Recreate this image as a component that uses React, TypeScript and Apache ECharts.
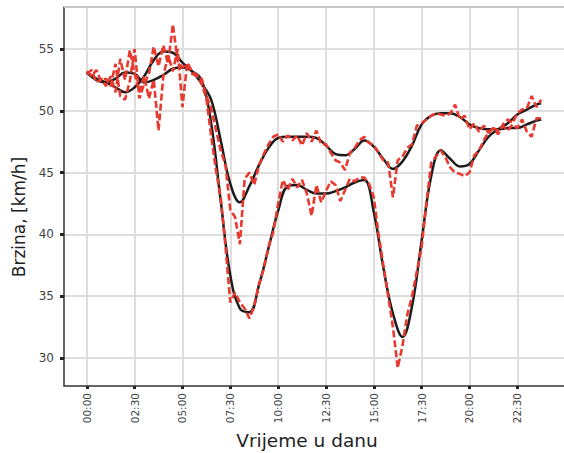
import React, { useEffect, useRef } from "react";
import * as echarts from "echarts";

const tickHours = [0, 2.5, 5, 7.5, 10, 12.5, 15, 17.5, 20, 22.5];
const tickLabels = ["00:00", "02:30", "05:00", "07:30", "10:00", "12:30", "15:00", "17:30", "20:00", "22:30"];
const yTicks = [30, 35, 40, 45, 50, 55];

// 15-minute raw measurements (red dashed), from 00:00 to 23:45
const redStep = 0.25;
const redUpper = [
  53.2, 52.8, 53.3, 52.4, 52.6, 52.0, 53.8, 51.2, 50.9, 52.4, 55.0, 51.0,
  52.2, 53.0, 55.2, 53.6, 55.3, 53.8, 57.0, 54.0, 53.5, 53.8, 53.0, 52.8,
  52.6, 51.2, 50.2, 48.5, 46.8, 45.6, 42.0, 41.4, 39.2, 44.5, 45.0, 44.0,
  45.6, 46.5, 47.3, 47.9, 48.1, 47.5, 48.0, 47.6, 48.0, 47.2, 48.2, 47.5,
  48.4, 47.3, 47.3, 46.6, 46.0, 45.8, 45.2, 46.6, 47.0, 47.6, 47.9, 47.4,
  47.2, 46.6, 46.0, 45.8, 43.0, 46.0, 46.3, 47.0, 47.3, 48.8, 49.0, 49.3,
  49.6, 49.8, 49.7, 49.6, 49.8, 50.5, 49.3, 49.6, 48.5, 49.0, 48.3, 48.8,
  48.2, 48.6, 48.4, 48.8, 48.4, 48.9, 48.6, 49.3, 48.3, 47.9, 49.4, 49.4,
];
const redLower = [
  53.0, 53.3, 52.3, 52.6, 52.0, 52.8, 51.5, 54.2, 52.5, 54.9, 53.0, 51.5,
  52.8, 51.0, 52.5, 48.4, 52.8, 54.5, 53.2, 55.0, 50.3, 53.9, 53.2, 52.9,
  52.2, 51.0, 48.0, 45.2, 43.0, 39.0, 34.5, 35.3, 34.5, 34.0, 33.2, 34.2,
  36.0, 37.2, 39.0, 40.2, 42.5, 44.4, 43.6, 44.5, 43.8, 44.4, 43.3, 41.5,
  44.0, 42.6, 43.5, 44.3, 44.0, 42.7, 43.6, 44.5, 44.3, 44.6, 44.6, 44.1,
  43.0, 40.0, 37.5, 35.0, 32.5, 29.2, 31.0, 33.5, 35.0, 37.0, 39.0, 42.5,
  45.8, 46.3, 46.8, 46.2, 45.4, 45.0, 44.9, 44.7, 45.0, 46.4, 46.8, 47.6,
  48.3, 48.6, 48.1, 48.9, 49.3, 49.0, 49.8, 50.1, 50.2, 51.2, 50.3, 50.9,
];

// smoothed profiles (black)
const smoothHours = [
  0, 0.5, 1, 1.5, 2, 2.5, 3, 3.5, 4, 4.5, 5, 5.5, 6, 6.5, 7, 7.5, 8, 8.5, 9, 9.5,
  10, 10.5, 11, 11.5, 12, 12.5, 13, 13.5, 14, 14.5, 15, 15.5, 16, 16.5, 17, 17.5,
  18, 18.5, 19, 19.5, 20, 20.5, 21, 21.5, 22, 22.5, 23, 23.5, 23.75,
];
const smoothUpper = [
  53.1, 52.6, 52.3, 51.9, 51.5, 51.9, 52.8, 54.1, 54.8, 54.7, 53.9, 53.2, 52.2, 50.9, 47.6, 44.1, 42.6, 43.9, 45.6, 47.0,
  47.8, 47.9, 47.9, 47.9, 47.8, 47.2, 46.5, 46.4, 46.9, 47.6, 47.1, 46.1, 45.3, 45.9, 47.2, 48.9,
  49.6, 49.8, 49.8, 49.5, 48.9, 48.6, 48.5, 48.5, 48.6, 48.6, 48.9, 49.2, 49.3,
];
const smoothLower = [
  53.1, 52.5, 52.3, 52.6, 53.1, 53.0, 52.3, 52.5, 52.9, 53.4, 53.5, 53.2, 52.5, 49.0, 42.7, 36.7, 34.0, 33.7, 35.9, 38.9,
  41.9, 43.9, 44.0, 43.6, 43.3, 43.3, 43.5, 43.8, 44.2, 44.4, 41.8, 37.3, 33.6, 31.7, 34.2, 39.5,
  44.7, 46.8, 46.1, 45.5, 45.7, 46.8, 47.9, 48.5, 49.0, 49.7, 50.1, 50.5, 50.6,
];

const FONT = "DejaVu Sans";

export default function App() {
  const ref = useRef<HTMLDivElement>(null);
  useEffect(() => {
    if (!ref.current) return;
    const chart = echarts.init(ref.current, null, { renderer: "svg" });
    const redSeries = (vals: number[]) => ({
      type: "line",
      data: vals.map((v, i) => [i * redStep, v]),
      showSymbol: false,
      symbol: "none",
      smooth: false,
      z: 3,
      lineStyle: { color: "#e8392f", width: 2.6, type: [7, 3] },
    });
    const blackSeries = (vals: number[]) => ({
      type: "line",
      data: vals.map((v, i) => [smoothHours[i], v]),
      showSymbol: false,
      symbol: "none",
      smooth: 0.4,
      z: 2,
      lineStyle: { color: "#1c1c1c", width: 2.5 },
    });
    chart.setOption({
      animation: false,
      backgroundColor: "#ffffff",
      grid: { left: 64, top: 7, right: -11, bottom: 67, show: false },
      xAxis: {
        type: "value",
        min: -1.19,
        max: 24.94,
        axisLine: { show: true, onZero: false, lineStyle: { color: "#333", width: 1.5 } },
        axisTick: { show: true, customValues: tickHours, length: 3, lineStyle: { color: "#222", width: 3 } },
        axisLabel: {
          customValues: tickHours,
          rotate: 90,
          margin: 7,
          fontSize: 10.5,
          fontFamily: FONT,
          color: "#444",
          formatter: (v: number) => tickLabels[tickHours.indexOf(v)] ?? "",
        },
        splitLine: { show: true, lineStyle: { color: "#dedede", width: 2 } },
      },
      yAxis: {
        type: "value",
        min: 27.73,
        max: 58.4,
        axisLine: { show: true, onZero: false, lineStyle: { color: "#333", width: 1.5 } },
        axisTick: { show: true, customValues: yTicks, length: 4, lineStyle: { color: "#222", width: 3 } },
        axisLabel: {
          customValues: yTicks,
          margin: 10,
          fontSize: 12,
          fontFamily: FONT,
          color: "#444",
        },
        splitLine: { show: true, lineStyle: { color: "#dedede", width: 2 } },
      },
      graphic: [
        { type: "line", shape: { x1: 64, y1: 7, x2: 564, y2: 7 }, style: { stroke: "#c8c8c8", lineWidth: 2 }, z: 10 },
        {
          type: "text",
          x: 19,
          y: 217,
          rotation: Math.PI / 2,
          style: { text: "Brzina, [km/h]", font: `17px "${FONT}"`, fill: "#222", align: "center", verticalAlign: "middle" },
        },
        {
          type: "text",
          x: 307,
          y: 440,
          style: { text: "Vrijeme u danu", font: `18.5px "${FONT}"`, fill: "#222", align: "center", verticalAlign: "middle" },
        },
      ],
      series: [
        blackSeries(smoothUpper),
        blackSeries(smoothLower),
        redSeries(redUpper),
        redSeries(redLower),
      ],
    });
    return () => chart.dispose();
  }, []);
  return (
    <div
      ref={ref}
      style={{ position: "fixed", left: 0, top: 0, width: 564, height: 453, background: "#fff" }}
    />
  );
}
